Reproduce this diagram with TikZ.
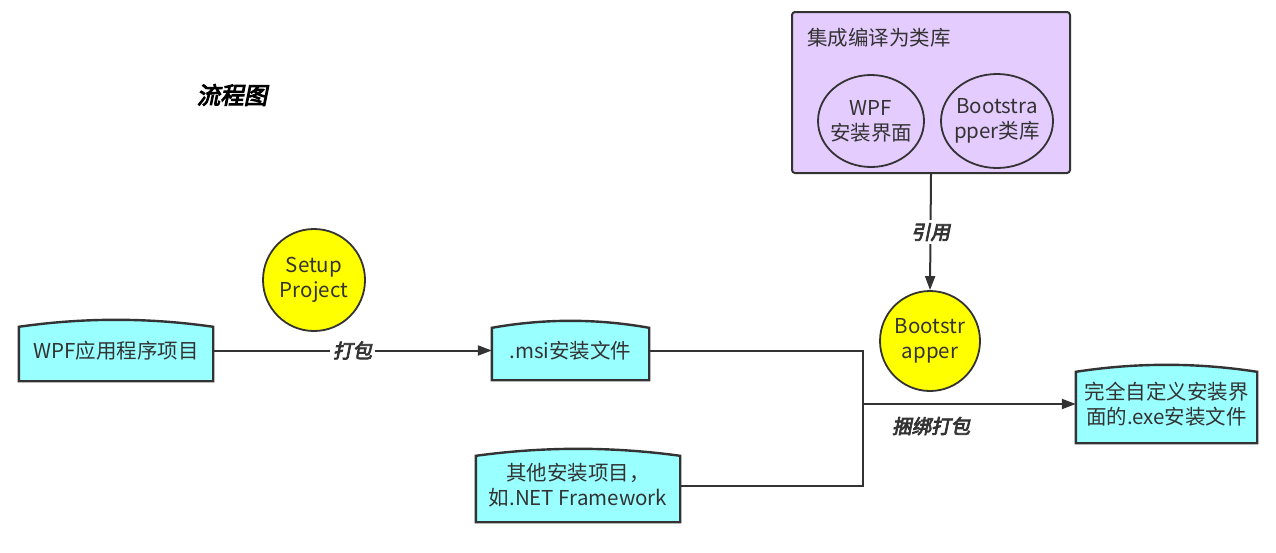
\documentclass[tikz,border=0pt]{standalone}
\usepackage{fontspec}
\setmainfont{Noto Sans CJK SC}
\newfontfamily\lblfont{Noto Sans CJK SC}[FakeSlant=0.2,FakeBold=4]
\usetikzlibrary{arrows.meta,backgrounds,calc,shapes.geometric}
\definecolor{ln}{HTML}{333333}
\definecolor{cyanfill}{HTML}{99FFFF}
\definecolor{yelfill}{HTML}{FFFF00}
\definecolor{purpfill}{HTML}{E5CCFF}
\newcommand\drawtape[1]{\begin{pgfonlayer}{background}\draw[tapeline] (#1.south west) -- ([yshift=-7pt]#1.north west) .. controls ($(#1.north west)!0.333!(#1.north east)+(0,-2.33)$) and ($(#1.north west)!0.667!(#1.north east)+(0,-2.33)$) .. ([yshift=-7pt]#1.north east) -- (#1.south east) -- cycle;\end{pgfonlayer}}
\begin{document}
\begin{tikzpicture}[x=1pt,y=-1pt,
  every node/.style={text=ln, font=\fontsize{20.5}{25}\selectfont, inner sep=0pt, align=center},
  tapeline/.style={draw=ln, line width=2.4pt, fill=cyanfill},
  txtbox/.style={rectangle, draw=none},
  yelcircle/.style={circle, draw=ln, line width=1.8pt, fill=yelfill, inner sep=-10pt},
  libell/.style={ellipse, draw=ln, line width=1.8pt, inner sep=-12pt},
  conn/.style={draw=ln, line width=2pt},
  arr/.style={conn, -{Triangle[length=14pt,width=10pt]}},
  lbl/.style={font=\lblfont\fontsize{19.5}{24}\selectfont, text=ln, fill=white, inner sep=3pt}
]
\useasboundingbox (0,0) rectangle (1276,552);

% title
\node[font=\lblfont\fontsize{23.5}{28}\selectfont, text=black] (title) at (232,95) {流程图};

% purple library box
\node[rectangle, rounded corners=3pt, draw=ln, line width=2pt, fill=purpfill,
      minimum width=278pt, minimum height=161pt] (lib) at (931,92.5) {};
\node[anchor=west] (libtitle) at (807,38) {集成编译为类库};
\node[libell, minimum width=106pt, minimum height=92pt] (wpfui) at (871,121) {WPF\\安装界面};
\node[libell, minimum width=112pt, minimum height=94pt] (bslib) at (997,121) {Bootstra\\pper类库};

% circles
\node[yelcircle, minimum size=102pt] (setup) at (314,280) {Setup\\Project};
\node[yelcircle, minimum size=100pt] (boot) at (930,341) {Bootstr\\apper};

% tape boxes
\node[txtbox, minimum width=194pt, minimum height=61pt] (wpf) at (116,350.5) {WPF应用程序项目};
\drawtape{wpf}
\node[txtbox, minimum width=157pt, minimum height=59pt] (msi) at (570.5,350.5) {.msi安装文件};
\drawtape{msi}
\node[txtbox, minimum width=204pt, minimum height=73pt] (other) at (578,485.5) {其他安装项目，\\如.NET Framework};
\drawtape{other}
\node[txtbox, minimum width=181pt, minimum height=78pt] (exe) at (1166.5,404) {完全自定义安装界\\面的.exe安装文件};
\drawtape{exe}

% connectors
\coordinate (junc) at (863,404);
\draw[arr] (wpf.east) -- node[lbl] (lbl1) {打包} (msi.west);
\draw[conn] (msi.east) -| (junc);
\draw[conn] (other.east) -| (junc);
\draw[arr] (junc) -- node[lbl, pos=0.32, below=9pt, fill=none] (lbl2) {捆绑打包} (exe.west);
\draw[arr] (lib.south) -- node[lbl] (lbl3) {引用} (boot.north);
\end{tikzpicture}
\end{document}
